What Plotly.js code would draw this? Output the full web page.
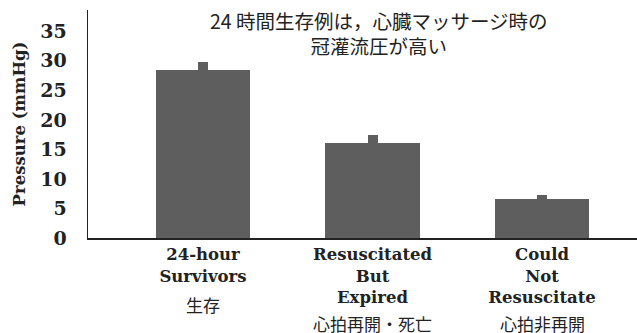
<!DOCTYPE html>
<html>
<head>
<meta charset="utf-8">
<script src="https://cdn.plot.ly/plotly-3.0.1.min.js"></script>
<style>html,body{margin:0;padding:0;background:#fff;}#chart{width:637px;height:333px;}</style>
</head>
<body>
<div id="chart"></div>
<script>
const categories = [0, 1, 2];
const labelsEn = ["24-hour<br>Survivors", "Resuscitated<br>But<br>Expired", "Could<br>Not<br>Resuscitate"];
const labelsJa = ["生存", "心拍再開・死亡", "心拍非再開"];
const pressure = [28.5, 16.1, 6.6];
const sem = [1.3, 1.4, 0.7];
const titleText = "24 時間生存例は，心臓マッサージ時の<br>冠灌流圧が高い";
const yTicks = [0, 5, 10, 15, 20, 25, 30, 35];

const barColor = "#5e5e5e";
const serif = "'DejaVu Serif', 'Liberation Serif', serif";
const sans = "'Noto Sans CJK JP', 'Noto Sans', sans-serif";

const trace = {
  type: "bar",
  x: categories,
  y: pressure,
  width: 0.555,
  marker: {color: barColor, line: {width: 0}},
  error_y: {type: "data", array: sem, visible: true, color: barColor, thickness: 10, width: 0},
  hoverinfo: "none"
};

const annotations = categories.map((c, i) => ({
  x: c, xref: "x", y: i === 0 ? -0.232 : -0.314, yref: "paper",
  text: labelsJa[i], showarrow: false, yanchor: "top", xanchor: "center",
  borderpad: 0,
  font: {family: sans, size: 17, color: "#222"}
}));

annotations.push({
  x: 0.53, xref: "paper", y: 1.02, yref: "paper",
  text: titleText, showarrow: false, xanchor: "center", yanchor: "top",
  borderpad: 0,
  font: {family: sans, size: 19.5, color: "#222"}
});

const layout = {
  width: 637, height: 333,
  margin: {l: 88, r: 0, t: 10, b: 95},
  paper_bgcolor: "#fff", plot_bgcolor: "#fff",
  showlegend: false,
  xaxis: {
    range: [-0.678, 2.56],
    tickvals: categories, ticktext: labelsEn,
    showline: true, linecolor: "#222", linewidth: 1.5,
    showgrid: false, zeroline: false, ticks: "",
    tickfont: {family: serif, size: 16.5, color: "#222", weight: "bold"},
    ticklabelstandoff: 1
  },
  yaxis: {
    range: [0, 38.6],
    tickvals: yTicks,
    showline: true, linecolor: "#222", linewidth: 1.5,
    showgrid: false, zeroline: false, ticks: "",
    tickfont: {family: serif, size: 19, color: "#222", weight: "bold"},
    ticklabelstandoff: 16,
    title: {text: "Pressure (mmHg)", font: {family: serif, size: 16.5, color: "#222", weight: "bold"}, standoff: 10}
  },
  annotations: annotations,
  bargap: 0
};

Plotly.newPlot("chart", [trace], layout, {staticPlot: true, displayModeBar: false});
</script>
</body>
</html>
